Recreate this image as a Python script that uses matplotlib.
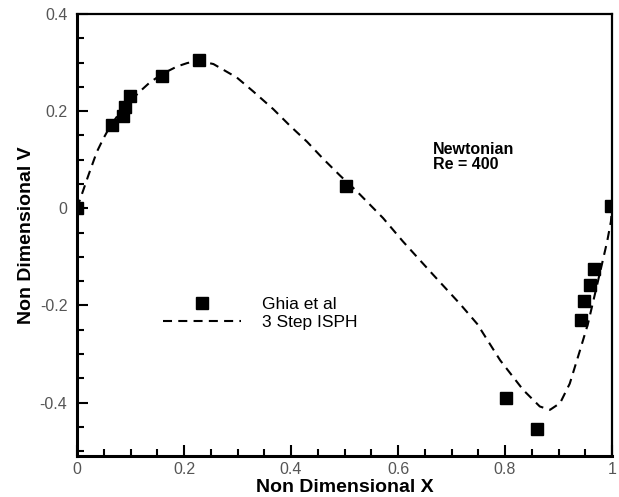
import matplotlib
matplotlib.use('Agg')
import matplotlib.pyplot as plt
from matplotlib.ticker import MultipleLocator, FuncFormatter

plt.rcParams['font.family'] = ['Liberation Sans', 'DejaVu Sans']
plt.rcParams['lines.scale_dashes'] = False

# %%
# Ghia et al reference points
ghia_x = [0.0, 0.065, 0.086, 0.090, 0.099, 0.159, 0.228, 0.503,
          0.802, 0.860, 0.942, 0.948, 0.959, 0.966, 0.998]
ghia_v = [0.0, 0.171, 0.190, 0.208, 0.231, 0.273, 0.306, 0.045,
          -0.390, -0.455, -0.231, -0.190, -0.157, -0.124, 0.004]

# 3 step ISPH curve
isph_x = [0.0, 0.011, 0.021, 0.037, 0.049, 0.062, 0.085, 0.118, 0.136, 0.160,
          0.187, 0.206, 0.226, 0.255, 0.299, 0.329, 0.367, 0.398, 0.430, 0.460,
          0.492, 0.523, 0.572, 0.609, 0.665, 0.716, 0.748, 0.791, 0.834, 0.865,
          0.884, 0.903, 0.921, 0.940, 0.955, 0.968, 0.981, 0.991, 0.998, 1.0]
isph_v = [0.0, 0.035, 0.067, 0.116, 0.143, 0.169, 0.205, 0.241, 0.259, 0.277,
          0.292, 0.299, 0.304, 0.297, 0.269, 0.241, 0.204, 0.170, 0.137, 0.102,
          0.067, 0.035, -0.020, -0.068, -0.136, -0.197, -0.238, -0.313, -0.374, -0.408,
          -0.415, -0.401, -0.361, -0.293, -0.238, -0.177, -0.116, -0.068, -0.027, 0.0]

# %%
fig = plt.figure(figsize=(6.19, 4.97), dpi=100)
ax = fig.add_axes([0.1244, 0.0825, 0.8643, 0.8893])

ax.plot(ghia_x, ghia_v, ls='none', marker='s', ms=9, color='k',
        label='Ghia et al', zorder=3)
ax.plot(isph_x, isph_v, color='k', lw=1.5, ls='--', dashes=(6.5, 4.5),
        label='3 Step ISPH', zorder=2)

ax.set_xlim(0, 1)
ax.set_ylim(-0.51, 0.4)

ax.xaxis.set_major_locator(MultipleLocator(0.2))
ax.xaxis.set_minor_locator(MultipleLocator(0.05))
ax.yaxis.set_major_locator(MultipleLocator(0.2))
ax.yaxis.set_minor_locator(MultipleLocator(0.05))
fmt = FuncFormatter(lambda v, p: '%g' % round(v, 2))
ax.xaxis.set_major_formatter(fmt)
ax.yaxis.set_major_formatter(fmt)

ax.tick_params(which='both', direction='in', top=False, right=False,
               width=1.5, labelsize=11.5, labelcolor='#555555')
ax.tick_params(which='major', length=8)
ax.tick_params(which='minor', length=5)
ax.tick_params(axis='y', pad=7)
ax.tick_params(axis='x', pad=4)

for s in ['left', 'bottom']:
    ax.spines[s].set_linewidth(2.2)
for s in ['top', 'right']:
    ax.spines[s].set_linewidth(1.6)

ax.set_xlabel('Non Dimensional X', fontsize=14, fontweight='bold', labelpad=2)
ax.set_ylabel('Non Dimensional V', fontsize=14, fontweight='bold', labelpad=3)

ax.text(0.665, 0.71, 'Newtonian\nRe = 400', transform=ax.transAxes,
        fontsize=11.5, fontweight='bold', va='top', ha='left', linespacing=0.95)

leg = ax.legend(loc='upper left', bbox_to_anchor=(0.161, 0.361), frameon=False,
                fontsize=12.5, handlelength=4.5, handletextpad=1.2,
                labelspacing=0.2, borderpad=0, borderaxespad=0)

fig.savefig('out.png', dpi=100)
